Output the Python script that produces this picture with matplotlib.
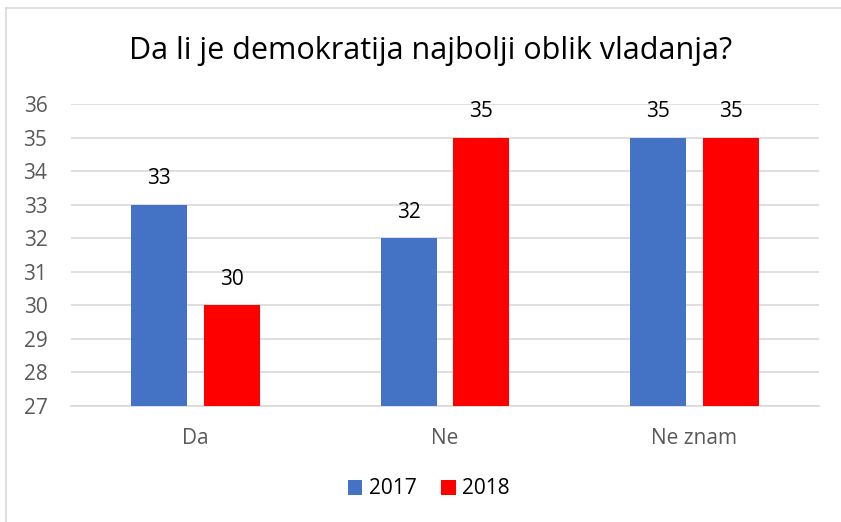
import numpy as np
import matplotlib.pyplot as plt
from matplotlib.lines import Line2D

# podaci
categories = ['Da', 'Ne', 'Ne znam']
years = ['2017', '2018']
values_2017 = [33, 32, 35]
values_2018 = [30, 35, 35]
colors = ['#4472C4', '#FF0000']

plt.rcParams['font.family'] = ['Open Sans', 'DejaVu Sans']

fig = plt.figure(figsize=(8.41, 5.22), dpi=100)
ax = fig.add_axes([71 / 841, 1 - 406 / 522, (819 - 71) / 841, (406 - 104) / 522])

x = np.arange(len(categories))
width = 0.225
offset = 0.146

bars1 = ax.bar(x - offset, np.array(values_2017) - 27, width, bottom=27,
               color=colors[0], label=years[0], zorder=3)
bars2 = ax.bar(x + offset, np.array(values_2018) - 27, width, bottom=27,
               color=colors[1], label=years[1], zorder=3)

# vrijednosti iznad stubaca
for bars, vals in [(bars1, values_2017), (bars2, values_2018)]:
    for b, v in zip(bars, vals):
        ax.annotate(str(v), (b.get_x() + b.get_width() / 2, v),
                    xytext=(0, 11), textcoords='offset points',
                    ha='center', va='bottom', fontsize=15, color='#000000')

ax.set_xlim(-0.5, 2.5)
ax.set_ylim(27, 36)
ax.set_yticks(range(27, 37))
ax.set_xticks(x)
ax.set_xticklabels(categories)
ax.tick_params(axis='both', length=0, labelsize=15, colors='#595959')
ax.tick_params(axis='y', pad=17)
ax.tick_params(axis='x', pad=16)
ax.grid(axis='y', color='#D9D9D9', linewidth=1.2, zorder=0)
for s in ['top', 'right', 'left']:
    ax.spines[s].set_visible(False)
ax.spines['bottom'].set_color('#D9D9D9')
ax.spines['bottom'].set_linewidth(1.2)

fig.text(0.5125, 1 - 51 / 522, 'Da li je demokratija najbolji oblik vladanja?',
         ha='center', va='center', fontsize=22, color='#000000')

leg = fig.legend(handles=[bars1, bars2], labels=years, loc='center',
                 bbox_to_anchor=(0.51, 1 - 489 / 522), ncol=2, frameon=False,
                 fontsize=15, handlelength=0.7, handleheight=0.7,
                 handletextpad=0.3, columnspacing=1.2)

# okvir grafikona
fig.add_artist(Line2D([6 / 841, 6 / 841], [0, 1 - 8 / 522], color='#D9D9D9',
                      linewidth=1.2, transform=fig.transFigure))
fig.add_artist(Line2D([6 / 841, 1], [1 - 8 / 522, 1 - 8 / 522], color='#D9D9D9',
                      linewidth=1.2, transform=fig.transFigure))

fig.savefig('out.png', dpi=100)
